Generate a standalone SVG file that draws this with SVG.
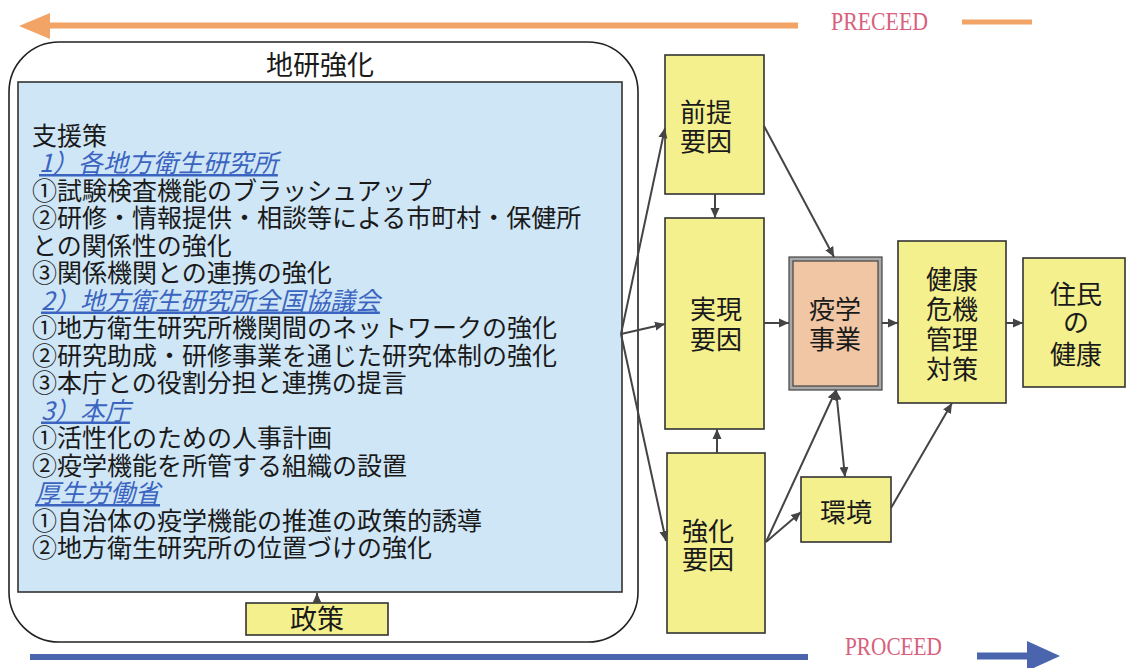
<svg xmlns="http://www.w3.org/2000/svg" width="1127" height="668" viewBox="0 0 1127 668">
<style>
text{font-family:"Noto Sans CJK JP","Liberation Sans",sans-serif;fill:#1a1a1a}
.body{font-size:25px}
.hd{font-style:italic;fill:#3a64c0;text-decoration:underline}
.node{fill:#f4f08e;stroke:#333;stroke-width:1.6}
.nt{font-size:26px;text-anchor:middle}
.conn{stroke:#444;stroke-width:2;fill:none}
.lbl{font-family:"Liberation Serif",serif;font-size:25px;fill:#d8607c}
</style>
<defs>
<marker id="ah" viewBox="0 0 10 10" refX="10" refY="5" markerWidth="10" markerHeight="10" markerUnits="userSpaceOnUse" orient="auto-start-reverse">
<path d="M0,0.5 L10,5 L0,9.5 z" fill="#444"/>
</marker>
</defs>
<g id="preceed">
<line x1="48" y1="25.5" x2="798" y2="25.5" stroke="#f2a466" stroke-width="6"/>
<polygon points="19,26 50,13 50,39" fill="#f2a466"/>
<text class="lbl" x="831" y="30" textLength="97" lengthAdjust="spacingAndGlyphs">PRECEED</text>
<line x1="962" y1="22" x2="1032" y2="22" stroke="#f2a466" stroke-width="5"/>
</g>
<g id="proceed">
<line x1="30" y1="657" x2="808" y2="657" stroke="#4a64ae" stroke-width="6"/>
<text class="lbl" x="845" y="655" textLength="97" lengthAdjust="spacingAndGlyphs">PROCEED</text>
<line x1="977" y1="656" x2="1030" y2="656" stroke="#4a64ae" stroke-width="7"/>
<polygon points="1027,641 1060,656 1027,671" fill="#4a64ae"/>
</g>
<g id="chiken">
<rect x="9" y="42" width="629" height="600" rx="50" ry="50" fill="#fff" stroke="#222" stroke-width="1.6"/>
<text x="320" y="75" style="font-size:27px;text-anchor:middle">地研強化</text>
</g>
<g id="shienSaku">
<rect x="18" y="82" width="604" height="510" fill="#cfe6f6" stroke="#333" stroke-width="1.6"/>
<text class="body"><tspan x="32" y="144.5">支援策</tspan><tspan class="hd" x="39" y="172">1）各地方衛生研究所</tspan><tspan x="32" y="199.5">①試験検査機能のブラッシュアップ</tspan><tspan x="32" y="227">②研修・情報提供・相談等による市町村・保健所</tspan><tspan x="32" y="254.5">との関係性の強化</tspan><tspan x="32" y="282">③関係機関との連携の強化</tspan><tspan class="hd" x="41" y="309.5">2）地方衛生研究所全国協議会</tspan><tspan x="32" y="337">①地方衛生研究所機関間のネットワークの強化</tspan><tspan x="32" y="364.5">②研究助成・研修事業を通じた研究体制の強化</tspan><tspan x="32" y="392">③本庁との役割分担と連携の提言</tspan><tspan class="hd" x="41" y="419.5">3）本庁</tspan><tspan x="32" y="447">①活性化のための人事計画</tspan><tspan x="32" y="474.5">②疫学機能を所管する組織の設置</tspan><tspan class="hd" x="35" y="502">厚生労働省</tspan><tspan x="32" y="529.5">①自治体の疫学機能の推進の政策的誘導</tspan><tspan x="32" y="557">②地方衛生研究所の位置づけの強化</tspan></text>
</g>
<g id="seisaku">
<rect class="node" x="246" y="603" width="142" height="32"/>
<text x="317" y="629" style="font-size:27px;text-anchor:middle">政策</text>
</g>
<g id="zentei">
<rect class="node" x="665" y="55" width="99" height="139"/>
<text class="nt"><tspan x="706" y="122">前提</tspan><tspan x="706" y="151">要因</tspan></text>
</g>
<g id="jitsugen">
<rect class="node" x="665" y="218" width="99" height="211"/>
<text class="nt"><tspan x="716" y="319">実現</tspan><tspan x="716" y="349">要因</tspan></text>
</g>
<g id="kyouka">
<rect class="node" x="667" y="453" width="98" height="180"/>
<text class="nt"><tspan x="708" y="541">強化</tspan><tspan x="708" y="569">要因</tspan></text>
</g>
<g id="ekigaku">
<rect x="789" y="257" width="93" height="133" fill="#a8a8a8" stroke="#444" stroke-width="1.2"/>
<rect x="793" y="261" width="85" height="125" fill="#f0c6a4" stroke="#444" stroke-width="1.2"/>
<text class="nt"><tspan x="835" y="319">疫学</tspan><tspan x="835" y="349">事業</tspan></text>
</g>
<g id="kenkou">
<rect class="node" x="898" y="241" width="108" height="162"/>
<text class="nt"><tspan x="952" y="289">健康</tspan><tspan x="952" y="319">危機</tspan><tspan x="952" y="349">管理</tspan><tspan x="952" y="379">対策</tspan></text>
</g>
<g id="juumin">
<rect class="node" x="1023" y="258" width="102" height="129"/>
<text class="nt"><tspan x="1076" y="304">住民</tspan><tspan x="1076" y="332">の</tspan><tspan x="1076" y="364">健康</tspan></text>
</g>
<g id="kankyou">
<rect class="node" x="801" y="477" width="90" height="65"/>
<text class="nt" x="846" y="522">環境</text>
</g>
<g id="connectors">
<line class="conn" x1="317" y1="603" x2="317" y2="593" marker-end="url(#ah)"/>
<line class="conn" x1="621" y1="334" x2="665" y2="128" marker-end="url(#ah)"/>
<line class="conn" x1="621" y1="334" x2="665" y2="324" marker-end="url(#ah)"/>
<line class="conn" x1="621" y1="334" x2="666" y2="541" marker-end="url(#ah)"/>
<line class="conn" x1="715" y1="194" x2="715" y2="218" marker-end="url(#ah)"/>
<line class="conn" x1="717" y1="453" x2="717" y2="429" marker-end="url(#ah)"/>
<line class="conn" x1="764" y1="126" x2="834" y2="257" marker-end="url(#ah)"/>
<line class="conn" x1="764" y1="323" x2="789" y2="323" marker-end="url(#ah)"/>
<line class="conn" x1="882" y1="323" x2="898" y2="323" marker-end="url(#ah)"/>
<line class="conn" x1="1006" y1="323" x2="1023" y2="323" marker-end="url(#ah)"/>
<line class="conn" x1="766" y1="542" x2="836" y2="390" marker-end="url(#ah)"/>
<line class="conn" x1="766" y1="542" x2="801" y2="512" marker-end="url(#ah)"/>
<line class="conn" x1="836" y1="390" x2="845" y2="477" marker-start="url(#ah)" marker-end="url(#ah)"/>
<line class="conn" x1="891" y1="508" x2="952" y2="403" marker-end="url(#ah)"/>
</g>
</svg>
